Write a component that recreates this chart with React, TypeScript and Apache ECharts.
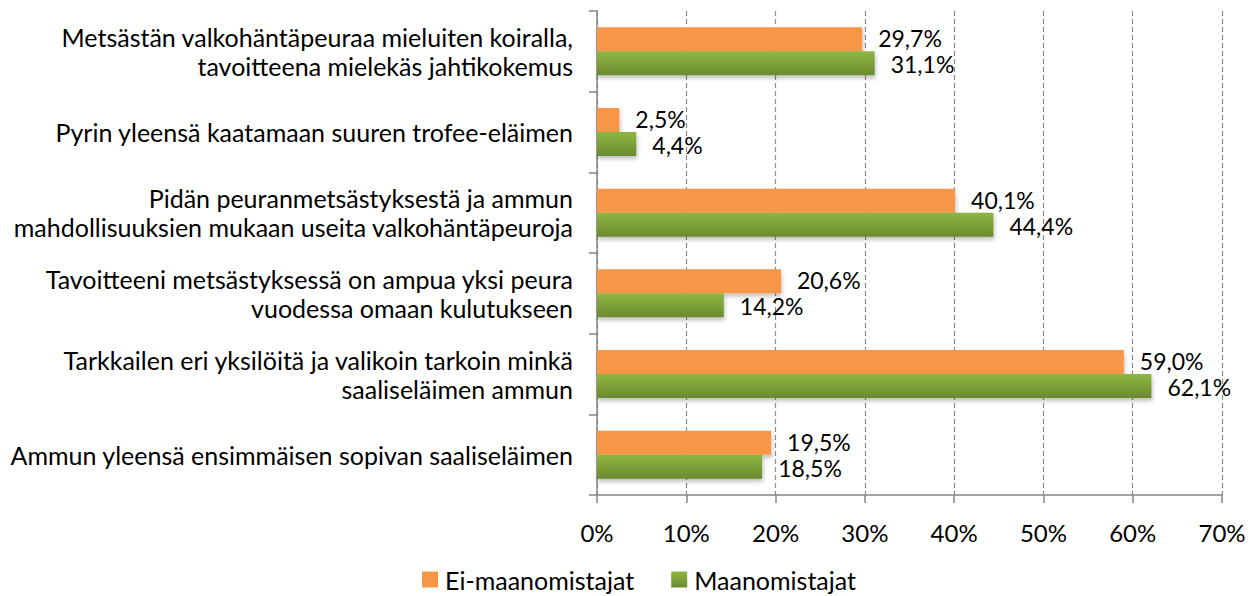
import React, { useEffect, useRef } from "react";
import * as echarts from "echarts";

const categories = [
  "Metsästän valkohäntäpeuraa mieluiten koiralla,\ntavoitteena mielekäs jahtikokemus",
  "Pyrin yleensä kaatamaan suuren trofee-eläimen",
  "Pidän peuranmetsästyksestä ja ammun\nmahdollisuuksien mukaan useita valkohäntäpeuroja",
  "Tavoitteeni metsästyksessä on ampua yksi peura\nvuodessa omaan kulutukseen",
  "Tarkkailen eri yksilöitä ja valikoin tarkoin minkä\nsaaliseläimen ammun",
  "Ammun yleensä ensimmäisen sopivan saaliseläimen",
];
const seriesNames = ["Ei-maanomistajat", "Maanomistajat"];
const eiMaanomistajat = [29.7, 2.5, 40.1, 20.6, 59.0, 19.5];
const maanomistajat = [31.1, 4.4, 44.4, 14.2, 62.1, 18.5];

const FONT = "Lato, sans-serif";
const FS = 25;
const VFS = 23;

export default function App() {
  const ref = useRef<HTMLDivElement>(null);
  useEffect(() => {
    if (!ref.current) return;
    const chart = echarts.init(ref.current, null, { renderer: "svg" });
    const fmt = (p: any) => (p.value as number).toFixed(1).replace(".", ",") + "%";
    const green = new echarts.graphic.LinearGradient(0, 0, 0, 1, [
      { offset: 0, color: "#8FB741" },
      { offset: 1, color: "#6A8A2F" },
    ]);
    const orange = "#F79646";
    chart.setOption({
      animation: false,
      textStyle: { fontFamily: FONT },
      grid: { left: 597, right: 34, top: 11, bottom: 101, containLabel: false },
      legend: {
        top: 567,
        left: 422,
        itemWidth: 16,
        itemHeight: 16,
        itemGap: 37,
        icon: "rect",
        padding: 0,
        textStyle: { fontSize: FS, color: "#000", fontFamily: FONT, padding: [0, 0, 0, 2] },
        data: seriesNames,
      },
      xAxis: {
        type: "value",
        min: 0,
        max: 70,
        interval: 10,
        axisLine: { show: true, lineStyle: { color: "#868686", width: 1.5 } },
        axisTick: { show: true, length: 8, lineStyle: { color: "#868686", width: 1.5 } },
        axisLabel: { formatter: "{value}%", fontSize: 24, color: "#000", margin: 25, fontFamily: FONT },
        splitLine: { show: true, lineStyle: { color: "#8a8a8a", type: [5, 3], width: 1.2 } },
      },
      yAxis: {
        type: "category",
        inverse: true,
        data: categories,
        axisLine: { show: true, lineStyle: { color: "#868686", width: 1.5 } },
        axisTick: { show: true, length: 8, lineStyle: { color: "#868686", width: 1.5 } },
        axisLabel: { fontSize: FS, color: "#000", margin: 24, lineHeight: 29, align: "right", fontFamily: FONT },
      },
      series: [
        {
          name: seriesNames[0],
          type: "bar",
          data: eiMaanomistajat,
          barWidth: 24,
          barGap: "0%",
          itemStyle: { color: orange, shadowBlur: 4, shadowOffsetX: 1, shadowOffsetY: 3, shadowColor: "rgba(0,0,0,0.25)" },
          label: { show: true, position: "right", distance: 16, offset: [0, -1], formatter: fmt, fontSize: VFS, lineHeight: 23, color: "#000", fontFamily: FONT },
        },
        {
          name: seriesNames[1],
          type: "bar",
          data: maanomistajat,
          barWidth: 24,
          barGap: "0%",
          itemStyle: { color: green, shadowBlur: 4, shadowOffsetX: 1, shadowOffsetY: 3, shadowColor: "rgba(0,0,0,0.25)" },
          label: { show: true, position: "right", distance: 16, offset: [0, 1], formatter: fmt, fontSize: VFS, lineHeight: 23, color: "#000", fontFamily: FONT },
        },
      ],
    });
    return () => chart.dispose();
  }, []);
  return <div ref={ref} style={{ position: "absolute", left: 0, top: 0, width: 1256, height: 596 }} />;
}
